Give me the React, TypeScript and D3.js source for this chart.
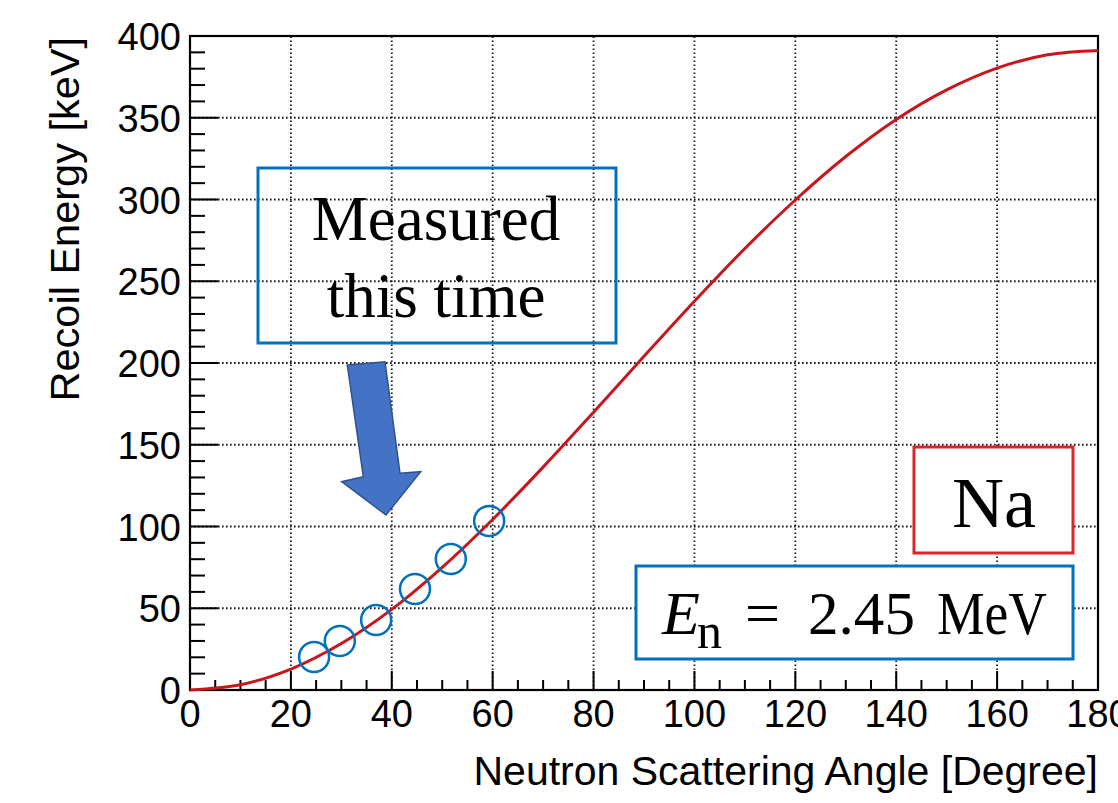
import React from "react";
import * as d3 from "d3";

// Curve: recoil energy (keV) vs neutron scattering angle (deg)
const angles = [0, 10, 20, 30, 40, 50, 60, 70, 80, 90, 100, 110, 120, 130, 140, 150, 160, 170, 180];
const energies = [0, 3.2, 12.8, 28.4, 49.3, 75.0, 104.3, 136.3, 169.9, 204.1, 237.8, 270.0, 299.7, 326.3, 349.0, 367.1, 380.4, 388.5, 391.2];

// Measured points (circled)
const measAngles = [24.6, 29.7, 36.9, 44.6, 51.7, 59.3];
const measEnergies = [20.2, 30.0, 42.8, 61.8, 80.1, 103.4];

const xTicks = [0, 20, 40, 60, 80, 100, 120, 140, 160, 180];
const yTicks = [0, 50, 100, 150, 200, 250, 300, 350, 400];

const W = 1118, H = 803;
const X0 = 190, X1 = 1098, Y0 = 690, Y1 = 36;

export default function App() {
  const x = d3.scaleLinear().domain([0, 180]).range([X0, X1]);
  const y = d3.scaleLinear().domain([0, 400]).range([Y0, Y1]);
  const pts: [number, number][] = angles.map((a, i) => [a, energies[i]]);
  const line = d3
    .line<[number, number]>()
    .x((d) => x(d[0]))
    .y((d) => y(d[1]))
    .curve(d3.curveCatmullRom.alpha(0.5));
  const xMinor = d3.range(0, 181, 5).filter((v) => v % 20 !== 0);
  const yMinor = d3.range(0, 401, 10).filter((v) => v % 50 !== 0);
  const sans = "'Liberation Sans', Arial, sans-serif";
  const serif = "'Liberation Serif', 'Times New Roman', serif";
  const arrow = [
    [347.3, 365], [385, 361.7], [400, 473.3], [420.7, 471.7], [386, 515], [341.7, 481.7], [363.3, 476.7],
  ];
  return (
    <svg width={W} height={H} style={{ position: "absolute", left: 0, top: 0, background: "#fff" }}>
      <rect x={0} y={0} width={W} height={H} fill="#fff" />
      {/* grid */}
      <g stroke="#1a1a1a" strokeWidth={1.8} strokeDasharray="1.6,2.4">
        {xTicks.slice(1, -1).map((t) => (
          <line key={"gx" + t} x1={x(t)} x2={x(t)} y1={Y0} y2={Y1} />
        ))}
        {yTicks.slice(1, -1).map((t) => (
          <line key={"gy" + t} x1={X0} x2={X1} y1={y(t)} y2={y(t)} />
        ))}
      </g>
      {/* ticks */}
      <g stroke="#000" strokeWidth={2}>
        {xTicks.map((t) => (
          <line key={"tx" + t} x1={x(t)} x2={x(t)} y1={Y0} y2={Y0 - 19} />
        ))}
        {xMinor.map((t) => (
          <line key={"mx" + t} x1={x(t)} x2={x(t)} y1={Y0} y2={Y0 - 10} />
        ))}
        {yTicks.map((t) => (
          <line key={"ty" + t} x1={X0} x2={X0 + 28} y1={y(t)} y2={y(t)} />
        ))}
        {yMinor.map((t) => (
          <line key={"my" + t} x1={X0} x2={X0 + 15} y1={y(t)} y2={y(t)} />
        ))}
      </g>
      {/* frame */}
      <rect x={X0} y={Y1} width={X1 - X0} height={Y0 - Y1} fill="none" stroke="#000" strokeWidth={2.2} />
      {/* curve */}
      <path d={line(pts) || ""} fill="none" stroke="#c8161d" strokeWidth={3} />
      {/* measured circles */}
      {measAngles.map((a, i) => (
        <circle key={"c" + i} cx={x(a)} cy={y(measEnergies[i])} r={15} fill="none" stroke="#0070c0" strokeWidth={2.5} />
      ))}
      {/* tick labels */}
      <g fontFamily={sans} fontSize={38} fill="#000">
        {xTicks.map((t) => (
          <text key={"lx" + t} x={x(t)} y={727} textAnchor="middle">{t}</text>
        ))}
        {yTicks.map((t) => (
          <text key={"ly" + t} x={181} y={y(t) + 14} textAnchor="end">{t}</text>
        ))}
      </g>
      {/* axis titles */}
      <text x={X1} y={785} textAnchor="end" fontFamily={sans} fontSize={41} fill="#000">
        Neutron Scattering Angle [Degree]
      </text>
      <text transform={`translate(79,37) rotate(-90)`} textAnchor="end" fontFamily={sans} fontSize={41.5} fill="#000">
        Recoil Energy [keV]
      </text>
      {/* Measured box (transparent, grid shows through) */}
      <rect x={258} y={168} width={358} height={175} fill="none" stroke="#0070c0" strokeWidth={3} />
      <text x={436} y={240} textAnchor="middle" fontFamily={serif} fontSize={63} fill="#000">Measured</text>
      <text x={436} y={317} textAnchor="middle" fontFamily={serif} fontSize={63} fill="#000">this time</text>
      {/* arrow */}
      <polygon points={arrow.map((p) => p.join(",")).join(" ")} fill="#4472c4" stroke="#2f528f" strokeWidth={1.5} />
      {/* Na box */}
      <rect x={914} y={447} width={159} height={106} fill="#fff" stroke="#d9262b" strokeWidth={3} />
      <text x={994} y={527} textAnchor="middle" fontFamily={serif} fontSize={72} fill="#000">Na</text>
      {/* En box */}
      <rect x={636} y={566} width={437} height={93} fill="#fff" stroke="#0070c0" strokeWidth={3} />
      <g fontFamily={serif} fill="#000">
        <text x={662} y={634} fontSize={62} fontStyle="italic">E</text>
        <text x={697} y={648} fontSize={50}>n</text>
        <text x={745} y={634} fontSize={62}>=</text>
        <text x={808} y={634} fontSize={62} textLength={107} lengthAdjust="spacingAndGlyphs">2.45</text>
        <text x={937} y={634} fontSize={62} textLength={110} lengthAdjust="spacingAndGlyphs">MeV</text>
      </g>
    </svg>
  );
}
